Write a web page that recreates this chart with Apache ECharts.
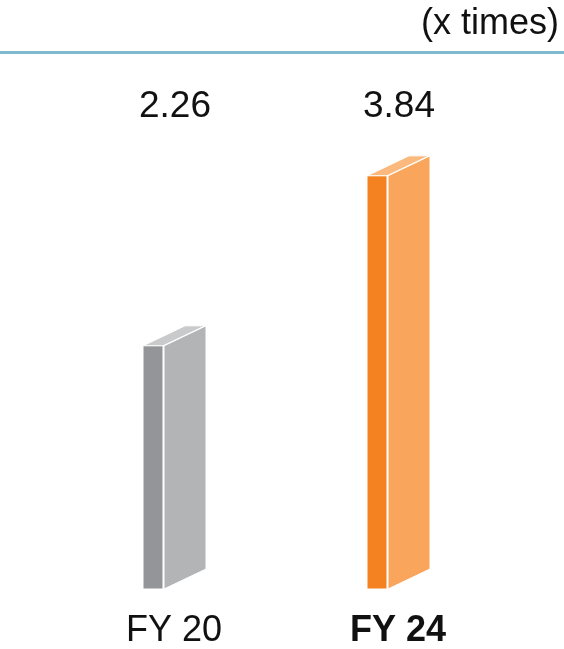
<!DOCTYPE html>
<html>
<head>
<meta charset="utf-8">
<script src="https://cdn.jsdelivr.net/npm/echarts@6/dist/echarts.min.js"></script>
<style>
html,body{margin:0;padding:0;background:#fff;}
#c{width:564px;height:649px;}
</style>
</head>
<body>
<div id="c"></div>
<script>
var categories = ['FY 20', 'FY 24'];
var values = [2.26, 3.84];
var unitLabel = '(x times)';

var palettes = [
  { front: '#939598', side: '#b2b4b6', top: '#c9cacc' },
  { front: '#f58220', side: '#f9a65c', top: '#fbb97e' }
];

var chart = echarts.init(document.getElementById('c'));

function renderItem(params, api) {
  var idx = params.dataIndex;
  var v = api.value(1);
  var top = api.coord([idx, v]);
  var base = api.coord([idx, 0]);
  var c = top[0];
  var yT = top[1];
  var yB = base[1];
  var pal = palettes[idx];
  var fL = c - 31, fR = c - 11;
  var sL = c - 10, dx = 42, dy = 20;
  return {
    type: 'group',
    children: [
      { type: 'polygon', shape: { points: [[sL, yT], [sL + dx, yT - dy], [sL + dx, yB - dy], [sL, yB]] },
        style: { fill: pal.side, stroke: '#ffffff', lineWidth: 1 } },
      { type: 'polygon', shape: { points: [[fL, yT], [fR, yT], [fR + dx, yT - dy], [fL + dx, yT - dy]] },
        style: { fill: pal.top, stroke: '#ffffff', lineWidth: 1 } },
      { type: 'rect', shape: { x: fL, y: yT, width: fR - fL, height: yB - yT },
        style: { fill: pal.front, stroke: '#ffffff', lineWidth: 1 } },
      { type: 'text', style: { text: String(v.toFixed(2)), x: c + 1, y: 107, align: 'center', verticalAlign: 'middle',
        fontSize: 37, fontFamily: 'Liberation Sans, Arial, sans-serif', fill: '#111111' } }
    ]
  };
}

chart.setOption({
  animation: false,
  grid: { left: 62, right: 54, top: 51, bottom: 58 },
  xAxis: {
    type: 'category',
    data: categories,
    axisLine: { show: false },
    axisTick: { show: false },
    axisLabel: {
      margin: 24,
      fontSize: 36,
      fontFamily: 'Liberation Sans, Arial, sans-serif',
      color: '#111111',
      formatter: function (val, i) { return i === categories.length - 1 ? '{b|' + val + '}' : val; },
      rich: { b: { fontSize: 36, fontWeight: 'bold', fontFamily: 'Liberation Sans, Arial, sans-serif', color: '#111111' } }
    }
  },
  yAxis: { type: 'value', min: 0, max: 5, show: false, splitLine: { show: false } },
  graphic: [
    { type: 'line', shape: { x1: 0, y1: 52.5, x2: 564, y2: 52.5 }, style: { stroke: '#80b9cd', lineWidth: 3 } },
    { type: 'text', right: 5, top: 6, style: { text: unitLabel, fontSize: 36, fontFamily: 'Liberation Sans, Arial, sans-serif', fill: '#111111' } }
  ],
  series: [{
    type: 'custom',
    renderItem: renderItem,
    data: values.map(function (v, i) { return [i, v]; })
  }]
});
</script>
</body>
</html>
